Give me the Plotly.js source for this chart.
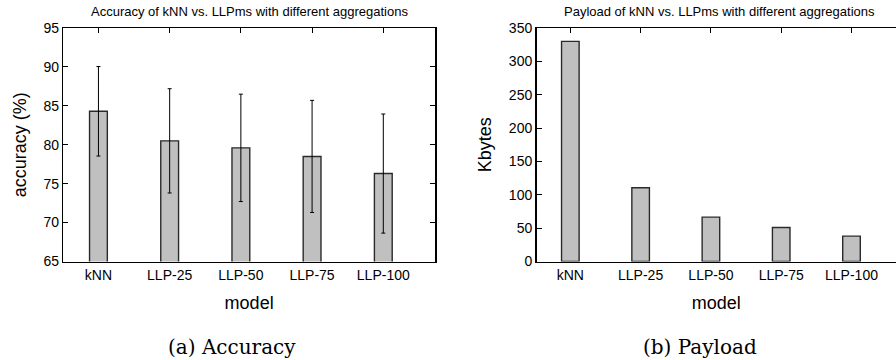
<!DOCTYPE html>
<html>
<head>
<meta charset="utf-8">
<script src="https://cdn.plot.ly/plotly-3.0.1.min.js"></script>
<style>html,body{margin:0;padding:0;background:#fff}#chart{width:896px;height:360px}</style>
</head>
<body>
<div id="chart"></div>
<script>
const models = ["kNN", "LLP-25", "LLP-50", "LLP-75", "LLP-100"];
const accuracy = [84.3, 80.5, 79.6, 78.5, 76.3];
const accuracyErr = [5.75, 6.7, 6.9, 7.2, 7.65];
const payload = [330, 110.5, 66.5, 51, 38];
const accTicks = [65, 70, 75, 80, 85, 90, 95];
const payTicks = [0, 50, 100, 150, 200, 250, 300, 350];

const barFill = "#c0c0c0";
const barLine = {color: "#2a2a2a", width: 1.4};
const tickFont = {family: "Liberation Sans, Arial, sans-serif", size: 14, color: "#000"};
const titleFont = {family: "Liberation Sans, Arial, sans-serif", size: 18, color: "#000"};

const data = [
  {
    type: "bar", x: models, y: accuracy, xaxis: "x", yaxis: "y", width: 0.25,
    marker: {color: barFill, line: barLine},
    error_y: {type: "data", array: accuracyErr, visible: true, color: "#000", thickness: 1, width: 2},
    hoverinfo: "x+y"
  },
  {
    type: "bar", x: models, y: payload, xaxis: "x2", yaxis: "y2", width: 0.25,
    marker: {color: barFill, line: barLine},
    hoverinfo: "x+y"
  },
  // invisible carriers for the top (tick-only) axes
  {type: "scatter", mode: "markers", x: models, y: accuracy, xaxis: "x3", yaxis: "y",
   marker: {opacity: 0}, hoverinfo: "skip"},
  {type: "scatter", mode: "markers", x: models, y: payload, xaxis: "x4", yaxis: "y2",
   marker: {opacity: 0}, hoverinfo: "skip"}
];

const xCommon = {
  type: "category", showgrid: false, zeroline: false, showline: true, linecolor: "#000", linewidth: 1.5,
  ticks: "", mirror: true, tickfont: tickFont, fixedrange: true
};
const xTop = {
  type: "category", showgrid: false, zeroline: false, showline: false, side: "top",
  ticks: "inside", ticklen: 5, tickcolor: "#000", tickwidth: 1, showticklabels: false, fixedrange: true
};
const yCommon = {
  showgrid: false, zeroline: false, showline: true, linecolor: "#000", linewidth: 1.5,
  ticks: "inside", ticklen: 5, tickcolor: "#000", tickwidth: 1,
  tickfont: tickFont, fixedrange: true
};

const layout = {
  width: 896, height: 360,
  margin: {l: 0, r: 0, t: 0, b: 0},
  paper_bgcolor: "#fff", plot_bgcolor: "#fff",
  showlegend: false,
  font: {family: "Liberation Sans, Arial, sans-serif", color: "#000"},
  xaxis: Object.assign({}, xCommon, {
    domain: [0.0706, 0.4855], range: [-0.494, 4.726], anchor: "y",
    title: {text: "model", font: titleFont, standoff: 14}
  }),
  xaxis3: Object.assign({}, xTop, {
    overlaying: "x", matches: "x", anchor: "y"
  }),
  yaxis: Object.assign({}, yCommon, {
    domain: [0.2736, 0.9222], range: [65, 95], tickvals: accTicks, mirror: "ticks", anchor: "x",
    title: {text: "accuracy (%)", font: titleFont, standoff: 12}
  }),
  xaxis2: Object.assign({}, xCommon, {
    domain: [0.5988, 1], range: [-0.481, 4.633], anchor: "y2",
    title: {text: "model", font: titleFont, standoff: 14}
  }),
  xaxis4: Object.assign({}, xTop, {
    overlaying: "x2", matches: "x2", anchor: "y2"
  }),
  yaxis2: Object.assign({}, yCommon, {
    domain: [0.2736, 0.9222], range: [0, 350], tickvals: payTicks, mirror: false, anchor: "x2",
    title: {text: "Kbytes", font: titleFont, standoff: 12}
  }),
  annotations: [
    {text: "Accuracy of kNN vs. LLPms with different aggregations", xref: "paper", yref: "paper",
     x: 0.279, y: 0.9694, xanchor: "center", yanchor: "middle", showarrow: false,
     font: {family: "Liberation Sans, Arial, sans-serif", size: 13, color: "#000"}},
    {text: "Payload of kNN vs. LLPms with different aggregations", xref: "paper", yref: "paper",
     x: 0.8028, y: 0.9694, xanchor: "center", yanchor: "middle", showarrow: false,
     font: {family: "Liberation Sans, Arial, sans-serif", size: 13, color: "#000"}},
    {text: "(a) Accuracy", xref: "paper", yref: "paper",
     x: 0.2586, y: 0.037, xanchor: "center", yanchor: "middle", showarrow: false,
     font: {family: "DejaVu Serif, serif", size: 20, color: "#000"}},
    {text: "(b) Payload", xref: "paper", yref: "paper",
     x: 0.7809, y: 0.037, xanchor: "center", yanchor: "middle", showarrow: false,
     font: {family: "DejaVu Serif, serif", size: 20, color: "#000"}}
  ]
};

Plotly.newPlot("chart", data, layout, {displayModeBar: false, staticPlot: true});
</script>
</body>
</html>
